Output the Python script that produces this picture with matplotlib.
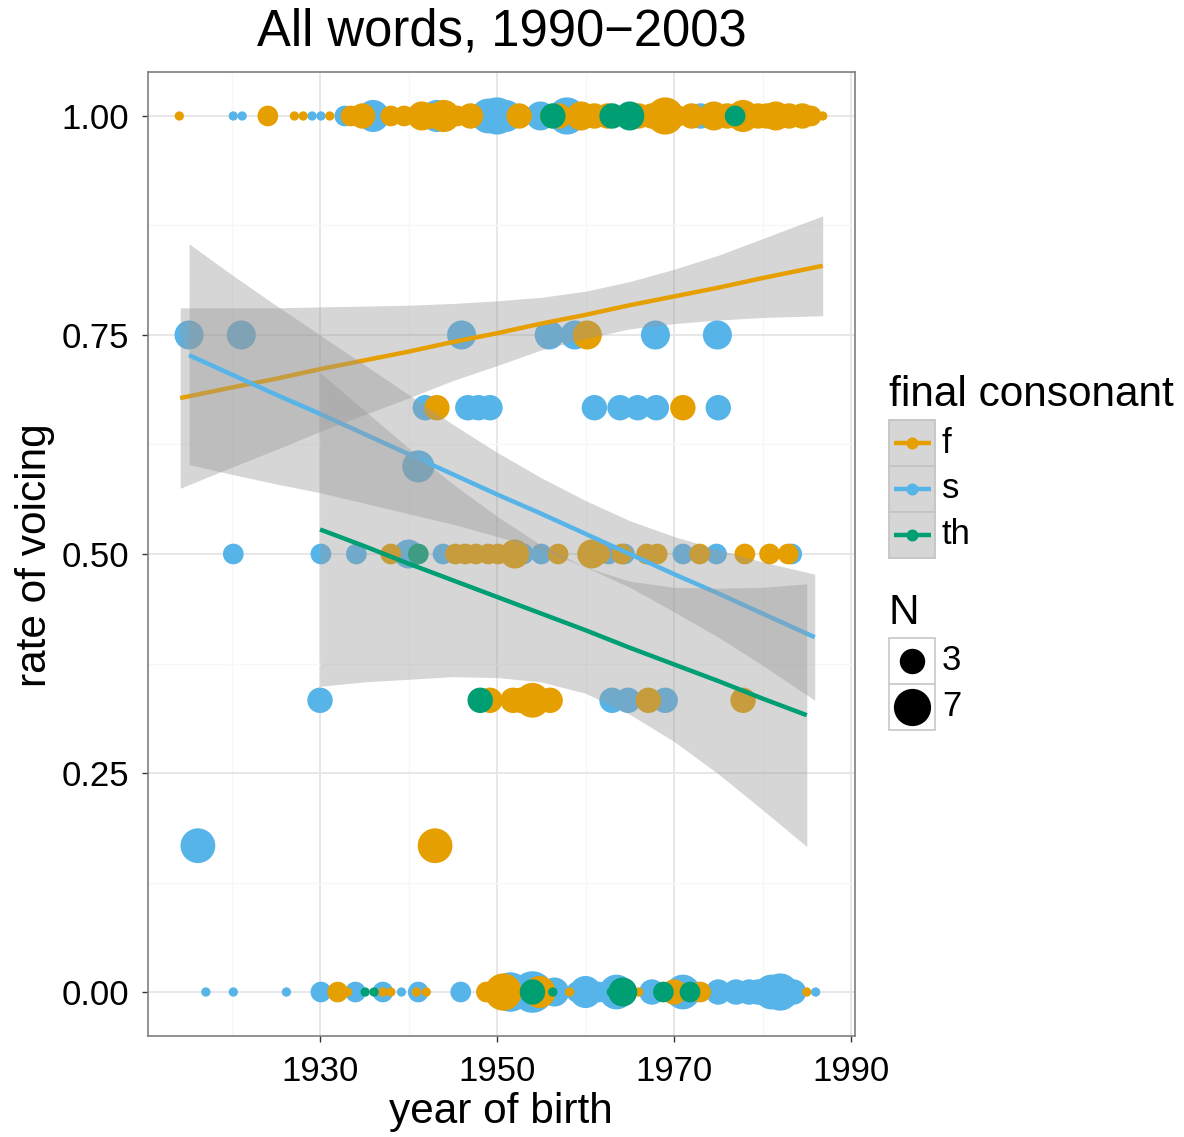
import numpy as np
import matplotlib
matplotlib.use("Agg")
import matplotlib.pyplot as plt
from matplotlib.patches import Rectangle
from matplotlib.lines import Line2D

plt.rcParams['font.family'] = ['Liberation Sans', 'DejaVu Sans']

# points: rate levels, then birth years and N per level for each final consonant
f_levels = [1.0, 0.75, 0.667, 0.5, 0.333, 0.167, 0.0]
f_years = [
    [1914.1, 1924.1, 1927.1, 1928.1, 1931.1, 1933.5, 1934.8, 1938.0, 1939.5, 1941.5,
     1942.5, 1944.0, 1945.5, 1947.0, 1952.5, 1956.0, 1957.0, 1959.5, 1961.0, 1962.5,
     1964.0, 1966.0, 1967.5, 1969.0, 1970.5, 1972.0, 1974.5, 1976.0, 1977.8, 1979.5,
     1980.5, 1981.5, 1983.0, 1984.5, 1985.5, 1986.8],
    [1960.2],
    [1943.2, 1971.0],
    [1938.0, 1945.3, 1946.4, 1947.6, 1949.0, 1950.1, 1952.0, 1956.9, 1960.7, 1961.6,
     1964.1, 1966.9, 1968.1, 1972.9, 1978.0, 1980.8, 1982.9],
    [1949.2, 1951.8, 1952.7, 1954.0, 1956.0, 1967.1, 1977.8],
    [1943.0],
    [1932.0, 1933.1, 1937.1, 1938.0, 1940.9, 1942.0, 1948.8, 1949.2, 1950.7, 1954.8,
     1955.6, 1958.2, 1964.1, 1965.0, 1966.0, 1970.0, 1971.8, 1973.0, 1985.0],
]
f_ns = [
    [1, 2, 1, 1, 1, 2, 3, 2, 2, 4, 3, 5, 2, 3, 3, 2, 3, 4, 3, 3,
     2, 3, 3, 7, 2, 3, 4, 3, 5, 3, 3, 4, 3, 3, 2, 1],
    [4],
    [3, 3],
    [2, 2, 2, 2, 2, 2, 4, 2, 4, 2, 2, 2, 2, 2, 2, 2, 2],
    [3, 3, 3, 6, 3, 3, 3],
    [6],
    [2, 1, 1, 1, 1, 1, 2, 2, 7, 5, 1, 1, 1, 1, 1, 3, 1, 2, 1],
]

s_levels = [1.0, 0.75, 0.667, 0.6, 0.5, 0.333, 0.167, 0.0]
s_years = [
    [1920.2, 1921.2, 1929.1, 1930.1, 1932.8, 1936.0, 1938.5, 1942.0, 1943.2, 1946.5,
     1948.0, 1949.0, 1950.0, 1951.0, 1954.9, 1957.9, 1958.0, 1961.5, 1966.0, 1967.0,
     1969.3, 1973.0, 1974.5, 1975.5, 1977.5, 1979.0, 1981.0, 1983.5, 1985.0],
    [1915.2, 1921.1, 1946.0, 1955.9, 1958.8, 1967.9, 1974.9],
    [1941.9, 1946.7, 1947.9, 1949.2, 1961.0, 1963.9, 1965.9, 1968.0, 1975.0],
    [1941.1],
    [1920.2, 1930.1, 1934.1, 1940.0, 1943.9, 1953.0, 1955.0, 1962.6, 1964.4, 1971.0,
     1974.8, 1983.3],
    [1930.0, 1963.0, 1964.8, 1969.0],
    [1916.2],
    [1917.1, 1920.2, 1926.2, 1930.1, 1934.0, 1937.1, 1939.2, 1941.1, 1945.9, 1951.5,
     1954.0, 1956.5, 1959.0, 1960.0, 1961.5, 1963.5, 1967.5, 1971.0, 1972.5, 1975.0,
     1977.0, 1978.5, 1979.5, 1981.0, 1982.0, 1983.5, 1986.0],
]
s_ns = [
    [1, 1, 1, 1, 2, 5, 1, 2, 5, 1, 2, 6, 7, 5, 4, 7, 1, 1, 2, 1,
     5, 3, 1, 1, 2, 2, 2, 1, 1],
    [4, 4, 4, 4, 4, 4, 4],
    [3, 3, 3, 3, 3, 3, 3, 3, 3],
    [5],
    [2, 2, 2, 4, 2, 2, 2, 2, 2, 2, 2, 2],
    [3, 3, 3, 3],
    [6],
    [1, 1, 1, 2, 2, 2, 1, 2, 2, 8, 9, 4, 2, 5, 2, 6, 3, 6, 2, 3,
     3, 3, 3, 6, 7, 3, 1],
]

th_levels = [1.0, 0.5, 0.333, 0.0]
th_years = [
    [1956.3, 1963.0, 1965.0, 1976.9],
    [1941.1],
    [1948.1],
    [1935.1, 1936.1, 1954.0, 1956.3, 1962.9, 1964.2, 1968.8, 1971.8],
]
th_ns = [
    [3, 3, 4, 2],
    [2],
    [3],
    [1, 1, 3, 1, 1, 4, 2, 2],
]

# linear fits with confidence bands
f_fit_year = [1914.2, 1920, 1925, 1930, 1935, 1940, 1945, 1950, 1955, 1960, 1965, 1970, 1975, 1980, 1986.8]
f_fit = [0.678, 0.690, 0.700, 0.711, 0.721, 0.731, 0.742, 0.752, 0.763, 0.773, 0.784, 0.794, 0.804, 0.815, 0.829]
f_upper = [0.781, 0.781, 0.781, 0.782, 0.783, 0.784, 0.786, 0.789, 0.793, 0.800, 0.811, 0.825, 0.841, 0.860, 0.886]
f_lower = [0.575, 0.599, 0.619, 0.640, 0.659, 0.678, 0.698, 0.715, 0.733, 0.746, 0.757, 0.763, 0.767, 0.770, 0.772]

s_fit_year = [1915.2, 1920, 1925, 1930, 1935, 1940, 1945, 1950, 1955, 1960, 1965, 1970, 1975, 1980, 1985.9]
s_fit = [0.727, 0.705, 0.682, 0.660, 0.637, 0.614, 0.591, 0.568, 0.546, 0.523, 0.500, 0.477, 0.455, 0.432, 0.405]
s_upper = [0.854, 0.819, 0.784, 0.750, 0.716, 0.682, 0.648, 0.616, 0.587, 0.561, 0.538, 0.520, 0.505, 0.491, 0.477]
s_lower = [0.602, 0.591, 0.580, 0.570, 0.558, 0.546, 0.534, 0.520, 0.505, 0.485, 0.462, 0.434, 0.405, 0.373, 0.333]

th_fit_year = [1930, 1935, 1940, 1945, 1950, 1955, 1960, 1965, 1970, 1975, 1980, 1985]
th_fit = [0.528, 0.509, 0.489, 0.470, 0.451, 0.432, 0.413, 0.393, 0.374, 0.355, 0.335, 0.316]
th_upper = [0.707, 0.664, 0.621, 0.580, 0.543, 0.510, 0.485, 0.469, 0.462, 0.461, 0.462, 0.466]
th_lower = [0.349, 0.354, 0.357, 0.360, 0.359, 0.354, 0.341, 0.317, 0.286, 0.249, 0.208, 0.166]

consonants = ['f', 's', 'th']
size_breaks = [3, 7]
colors = {'f': '#E69F00', 's': '#56B4E9', 'th': '#009E73'}

W, H = 1184, 1137


def diam_px(n):
    # area scale like ggplot's scale_size
    return 9.3 + 11.4 * np.sqrt(np.asarray(n, dtype=float) - 1)


def px2fig(x, y):
    return x / W, 1 - y / H


def flatten(levels, years, ns):
    xs, ys, nn = [], [], []
    for lev, yr, n in zip(levels, years, ns):
        xs += yr
        ys += [lev] * len(yr)
        nn += n
    return np.array(xs), np.array(ys), np.array(nn)


fig = plt.figure(figsize=(W / 100, H / 100), dpi=100)
ax = fig.add_axes([148 / W, 1 - 1036 / H, (855 - 148) / W, (1036 - 72) / H])

points = {
    'f': flatten(f_levels, f_years, f_ns),
    's': flatten(s_levels, s_years, s_ns),
    'th': flatten(th_levels, th_years, th_ns),
}
for key in ['s', 'f', 'th']:
    xs, ys, nn = points[key]
    ax.scatter(xs, ys, s=(diam_px(nn) * 0.72) ** 2, color=colors[key],
               edgecolors='none', zorder=2)

fits = {
    'f': (f_fit_year, f_fit, f_lower, f_upper),
    's': (s_fit_year, s_fit, s_lower, s_upper),
    'th': (th_fit_year, th_fit, th_lower, th_upper),
}
z = 3
for key in consonants:
    yr, fit, lo, hi = fits[key]
    ax.fill_between(yr, lo, hi, color='#999999', alpha=0.4, linewidth=0, zorder=z)
    ax.plot(yr, fit, color=colors[key], lw=3.2, solid_capstyle='butt', zorder=z + 1)
    z += 2

ax.set_xlim(1910.56, 1990.45)
ax.set_ylim(-0.0502, 1.0502)
ax.set_xticks([1930, 1950, 1970, 1990])
ax.set_xticks([1920, 1940, 1960, 1980], minor=True)
ax.set_yticks([0, 0.25, 0.5, 0.75, 1.0])
ax.set_yticklabels(['0.00', '0.25', '0.50', '0.75', '1.00'])
ax.set_yticks([0.125, 0.375, 0.625, 0.875], minor=True)
ax.grid(which='major', color='#E5E5E5', lw=1.3)
ax.grid(which='minor', color='#F7F7F7', lw=1.0)
ax.set_axisbelow(True)
ax.tick_params(which='major', length=4, width=1, color='#333333', labelsize=25, pad=9.5)
ax.tick_params(which='minor', length=0)
for sp in ax.spines.values():
    sp.set_color('#7F7F7F')
    sp.set_linewidth(1.2)

fig.text(*px2fig(502, 32), 'All words, 1990\u22122003', ha='center', va='center', fontsize=36.5)
fig.text(*px2fig(501, 1112), 'year of birth', ha='center', va='center', fontsize=30.5)
fig.text(*px2fig(35, 555), 'rate of voicing', ha='center', va='center', rotation=90, fontsize=30.5)

# legend: final consonant
fig.text(*px2fig(889, 395), 'final consonant', ha='left', va='center', fontsize=30.5)
for i, key in enumerate(consonants):
    top = 420 + 46 * i
    x0, y0 = px2fig(889, top + 46)
    fig.patches.append(Rectangle((x0, y0), 46 / W, 46 / H, transform=fig.transFigure,
                                 facecolor='white', edgecolor='none'))
    cx, cy = px2fig(912, top + 23)
    fig.lines.append(Line2D([cx], [cy], marker='o', ms=12 * 0.72, color=colors[key],
                            mec='none', transform=fig.transFigure))
    fig.patches.append(Rectangle((x0, y0), 46 / W, 46 / H, transform=fig.transFigure,
                                 facecolor='#999999', alpha=0.4, edgecolor='none'))
    fig.patches.append(Rectangle((x0, y0), 46 / W, 46 / H, transform=fig.transFigure,
                                 facecolor='none', edgecolor='#C4C4C4', lw=1.3))
    lx0, _ = px2fig(894, 0)
    lx1, _ = px2fig(931, 0)
    fig.lines.append(Line2D([lx0, lx1], [cy, cy], color=colors[key], lw=3.2,
                            solid_capstyle='butt', transform=fig.transFigure))
    fig.text(*px2fig(942, top + 23), key, ha='left', va='center', fontsize=25)

# legend: N
fig.text(*px2fig(889, 613), 'N', ha='left', va='center', fontsize=30.5)
for i, n in enumerate(size_breaks):
    top = 638 + 46 * i
    x0, y0 = px2fig(889, top + 46)
    fig.patches.append(Rectangle((x0, y0), 46 / W, 46 / H, transform=fig.transFigure,
                                 facecolor='white', edgecolor='#CCCCCC', lw=1.3))
    cx, cy = px2fig(912, top + 23)
    fig.lines.append(Line2D([cx], [cy], marker='o', ms=float(diam_px(n)) * 0.72,
                            color='black', mec='none', transform=fig.transFigure))
    fig.text(*px2fig(942, top + 23), str(n), ha='left', va='center', fontsize=25)

fig.savefig('out.png', dpi=100)
